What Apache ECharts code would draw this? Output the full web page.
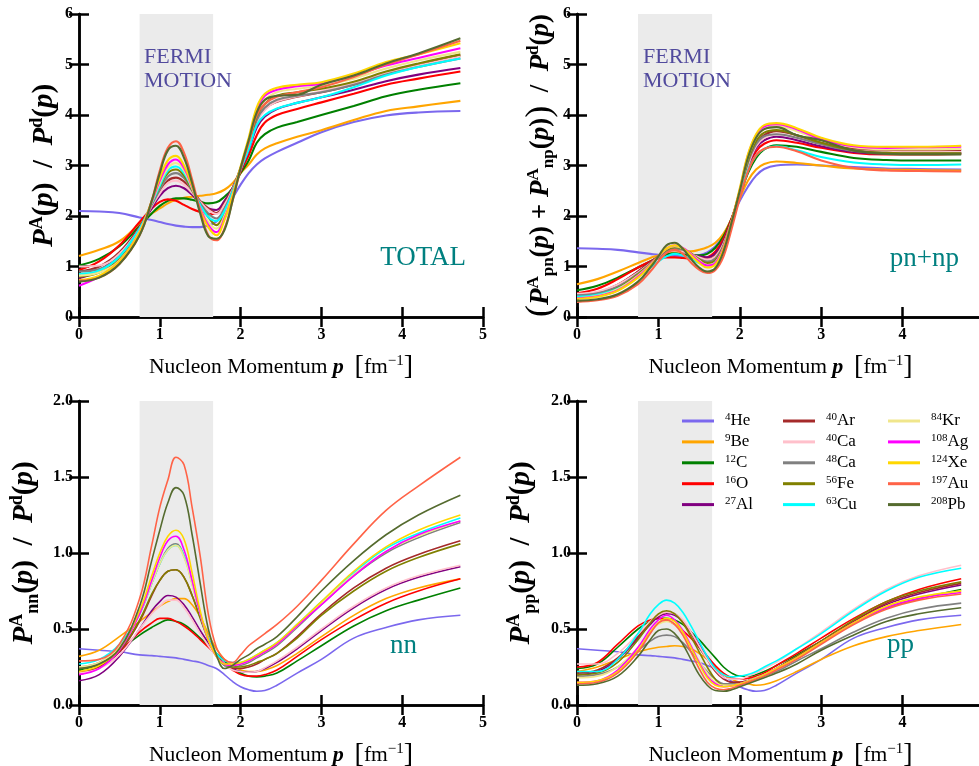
<!DOCTYPE html>
<html><head><meta charset="utf-8">
<script src="https://cdn.jsdelivr.net/npm/echarts@6/dist/echarts.min.js"></script>
<style>html,body{margin:0;padding:0;background:#fff}#c{width:979px;height:766px}</style>
</head><body><div id="c"></div>
<script>
// ---------- data ----------
const momentum = [0,0.25,0.5,0.75,0.9,1.0,1.1,1.2,1.3,1.4,1.5,1.6,1.7,1.8,1.9,2.0,2.1,2.2,2.3,2.45,2.7,3.0,3.4,3.8,4.2,4.72];
const elements = ['He','Be','C','O','Al','Ar','Ca','Ca','Fe','Cu','Kr','Ag','Xe','Au','Pb'];
const massNumbers = [4,9,12,16,27,40,40,48,56,63,84,108,124,197,208];
const lineColors = ['#7b68ee','#ffa500','#008000','#ff0000','#800080','#a52a2a','#ffc0cb','#808080','#808000','#00ffff','#f0e68c','#ff00ff','#ffd700','#ff6347','#556b2f'];
const fermiRange = [0.75, 1.66];
const panelLabels = ['TOTAL','pn+np','nn','pp'];

// TOTAL  P^A(p)/P^d(p)
const totalValues = [
 [2.10,2.09,2.06,1.97,1.92,1.88,1.84,1.81,1.79,1.78,1.78,1.81,1.89,2.05,2.35,2.62,2.85,3.02,3.14,3.27,3.45,3.66,3.86,3.99,4.05,4.08], // He
 [1.21,1.33,1.50,1.85,2.05,2.15,2.25,2.32,2.36,2.38,2.40,2.42,2.45,2.52,2.65,2.85,3.02,3.22,3.34,3.44,3.57,3.70,3.90,4.08,4.17,4.28], // Be
 [1.02,1.15,1.40,1.80,2.05,2.20,2.30,2.35,2.35,2.32,2.28,2.25,2.27,2.38,2.55,2.85,3.10,3.45,3.62,3.75,3.86,4.00,4.18,4.37,4.50,4.63], // C
 [0.93,1.10,1.42,1.88,2.15,2.28,2.33,2.30,2.22,2.14,2.08,2.04,2.05,2.20,2.50,2.88,3.20,3.60,3.85,4.00,4.12,4.25,4.42,4.60,4.72,4.86], // O
 [0.77,0.92,1.25,1.78,2.15,2.40,2.55,2.60,2.55,2.42,2.25,2.15,2.12,2.30,2.55,2.90,3.30,3.75,3.97,4.12,4.24,4.35,4.50,4.67,4.80,4.93], // Al
 [0.90,1.00,1.28,1.78,2.20,2.48,2.70,2.76,2.68,2.50,2.30,2.15,2.06,2.25,2.55,2.95,3.38,3.88,4.12,4.26,4.36,4.45,4.60,4.80,4.98,5.18], // Ar
 [1.00,1.02,1.25,1.75,2.20,2.45,2.65,2.70,2.62,2.46,2.28,2.12,2.04,2.22,2.52,2.93,3.36,3.86,4.10,4.27,4.37,4.47,4.62,4.82,4.98,5.16], // Ca40
 [0.90,0.95,1.20,1.75,2.22,2.52,2.78,2.85,2.75,2.50,2.25,2.05,1.95,2.15,2.50,2.95,3.38,3.90,4.15,4.30,4.38,4.45,4.60,4.80,4.95,5.12], // Ca48
 [0.80,0.88,1.15,1.72,2.25,2.58,2.85,2.92,2.80,2.52,2.22,1.98,1.82,2.05,2.45,2.95,3.42,3.98,4.22,4.38,4.45,4.52,4.66,4.86,5.02,5.20], // Fe
 [0.85,0.92,1.20,1.75,2.25,2.60,2.90,2.98,2.85,2.55,2.22,1.98,1.90,2.10,2.48,2.92,3.32,3.80,4.00,4.13,4.24,4.35,4.55,4.78,4.95,5.12], // Cu
 [0.82,0.88,1.12,1.70,2.27,2.65,2.95,3.05,2.90,2.55,2.15,1.88,1.75,2.00,2.42,2.95,3.45,4.05,4.30,4.45,4.52,4.58,4.72,4.92,5.08,5.25], // Kr
 [0.62,0.80,1.10,1.68,2.28,2.70,3.02,3.12,2.95,2.58,2.15,1.82,1.68,1.95,2.40,2.95,3.50,4.10,4.38,4.50,4.57,4.62,4.78,4.98,5.13,5.32], // Ag
 [0.73,0.82,1.10,1.68,2.30,2.75,3.10,3.19,3.00,2.60,2.12,1.78,1.62,1.92,2.40,2.98,3.55,4.15,4.42,4.54,4.60,4.65,4.82,5.05,5.20,5.42], // Xe
 [0.72,0.78,1.05,1.62,2.30,2.90,3.35,3.48,3.25,2.72,2.10,1.62,1.52,1.75,2.30,2.92,3.45,4.00,4.22,4.36,4.45,4.55,4.75,5.00,5.20,5.47], // Au
 [0.70,0.78,1.05,1.62,2.30,2.85,3.30,3.39,3.15,2.65,2.05,1.60,1.55,1.72,2.30,2.95,3.50,4.05,4.30,4.38,4.40,4.60,4.78,5.02,5.22,5.52]  // Pb
];

// (P_pn + P_np)/P^d
const pnnpValues = [
 [1.36,1.35,1.33,1.28,1.25,1.23,1.22,1.21,1.20,1.20,1.22,1.28,1.40,1.62,1.95,2.30,2.58,2.80,2.93,3.00,3.02,3.00,2.97,2.94,2.93,2.92], // He
 [0.65,0.75,0.90,1.07,1.17,1.22,1.27,1.30,1.30,1.30,1.33,1.38,1.47,1.65,1.95,2.35,2.70,2.92,3.03,3.08,3.05,3.00,2.94,2.92,2.91,2.90], // Be
 [0.53,0.62,0.78,0.98,1.10,1.18,1.24,1.26,1.24,1.22,1.22,1.25,1.37,1.60,1.95,2.40,2.85,3.15,3.32,3.40,3.37,3.27,3.15,3.11,3.10,3.10], // C
 [0.47,0.56,0.75,0.98,1.10,1.16,1.18,1.18,1.17,1.16,1.16,1.18,1.30,1.55,1.95,2.45,2.95,3.28,3.43,3.50,3.45,3.35,3.25,3.22,3.22,3.23], // O
 [0.40,0.47,0.63,0.90,1.08,1.20,1.30,1.33,1.30,1.24,1.20,1.18,1.26,1.50,1.92,2.45,3.00,3.35,3.50,3.57,3.50,3.38,3.27,3.24,3.24,3.25], // Al
 [0.42,0.48,0.64,0.90,1.08,1.20,1.30,1.35,1.32,1.25,1.18,1.15,1.22,1.48,1.92,2.48,3.05,3.42,3.60,3.68,3.60,3.45,3.33,3.30,3.30,3.31], // Ar
 [0.46,0.50,0.64,0.88,1.06,1.18,1.28,1.32,1.30,1.24,1.18,1.14,1.20,1.45,1.90,2.45,3.00,3.38,3.55,3.62,3.55,3.42,3.30,3.27,3.26,3.26], // Ca40
 [0.43,0.47,0.60,0.86,1.05,1.18,1.30,1.35,1.33,1.25,1.15,1.10,1.16,1.42,1.90,2.45,3.05,3.42,3.58,3.62,3.55,3.42,3.29,3.25,3.24,3.24], // Ca48
 [0.38,0.43,0.57,0.84,1.05,1.20,1.33,1.38,1.35,1.26,1.14,1.07,1.12,1.40,1.90,2.48,3.10,3.48,3.65,3.70,3.60,3.45,3.30,3.25,3.24,3.24], // Fe
 [0.40,0.44,0.56,0.80,0.98,1.10,1.20,1.25,1.22,1.15,1.07,1.02,1.08,1.35,1.85,2.40,2.90,3.20,3.33,3.38,3.30,3.17,3.06,3.02,3.01,3.02], // Cu
 [0.37,0.42,0.55,0.82,1.04,1.20,1.35,1.40,1.36,1.25,1.12,1.03,1.08,1.38,1.90,2.50,3.15,3.55,3.72,3.78,3.68,3.50,3.36,3.32,3.32,3.33], // Kr
 [0.37,0.41,0.53,0.80,1.03,1.20,1.36,1.42,1.37,1.24,1.10,1.02,1.07,1.37,1.90,2.52,3.20,3.60,3.77,3.82,3.72,3.52,3.38,3.35,3.36,3.37], // Ag
 [0.36,0.40,0.52,0.78,1.02,1.20,1.36,1.42,1.36,1.22,1.07,0.98,1.04,1.35,1.90,2.55,3.22,3.62,3.80,3.84,3.74,3.55,3.40,3.37,3.37,3.39], // Xe
 [0.30,0.33,0.42,0.65,0.90,1.10,1.27,1.33,1.25,1.08,0.94,0.87,0.93,1.20,1.75,2.35,2.88,3.20,3.33,3.37,3.28,3.10,2.95,2.90,2.89,2.88], // Au
 [0.32,0.35,0.45,0.70,0.98,1.20,1.42,1.47,1.35,1.15,0.98,0.90,0.97,1.30,1.88,2.50,3.15,3.55,3.72,3.76,3.60,3.50,3.30,3.23,3.22,3.22]  // Pb
];

// P_nn/P^d
const nnValues = [
 [0.37,0.36,0.35,0.33,0.325,0.32,0.315,0.31,0.30,0.29,0.28,0.26,0.24,0.20,0.155,0.12,0.10,0.09,0.095,0.13,0.21,0.30,0.44,0.51,0.56,0.59], // He
 [0.32,0.36,0.45,0.55,0.61,0.65,0.68,0.70,0.70,0.66,0.58,0.47,0.37,0.30,0.26,0.23,0.22,0.22,0.23,0.26,0.34,0.45,0.59,0.70,0.77,0.83], // Be
 [0.23,0.27,0.36,0.46,0.51,0.54,0.56,0.55,0.53,0.49,0.44,0.39,0.34,0.29,0.24,0.21,0.19,0.185,0.19,0.21,0.29,0.39,0.52,0.62,0.69,0.77], // C
 [0.20,0.25,0.35,0.48,0.54,0.57,0.57,0.55,0.52,0.48,0.43,0.38,0.33,0.27,0.23,0.20,0.19,0.19,0.20,0.23,0.32,0.43,0.56,0.67,0.75,0.83], // O
 [0.16,0.20,0.32,0.50,0.62,0.68,0.72,0.71,0.66,0.58,0.49,0.41,0.33,0.27,0.24,0.22,0.215,0.22,0.24,0.28,0.37,0.49,0.64,0.76,0.84,0.91], // Al
 [0.22,0.25,0.35,0.55,0.72,0.82,0.88,0.89,0.84,0.72,0.58,0.44,0.33,0.26,0.24,0.24,0.25,0.27,0.30,0.34,0.45,0.60,0.77,0.90,0.99,1.08], // Ar
 [0.21,0.24,0.33,0.50,0.60,0.65,0.69,0.69,0.64,0.56,0.47,0.39,0.32,0.26,0.23,0.22,0.215,0.22,0.245,0.29,0.38,0.50,0.65,0.77,0.85,0.92], // Ca40
 [0.25,0.28,0.38,0.60,0.80,0.93,1.03,1.06,0.98,0.80,0.60,0.43,0.32,0.26,0.25,0.26,0.28,0.31,0.34,0.39,0.51,0.66,0.85,1.00,1.10,1.20], // Ca48
 [0.24,0.27,0.36,0.56,0.73,0.82,0.88,0.89,0.84,0.72,0.57,0.43,0.33,0.27,0.25,0.25,0.26,0.28,0.30,0.34,0.44,0.59,0.75,0.88,0.97,1.06], // Fe
 [0.27,0.30,0.40,0.60,0.80,0.93,1.02,1.05,0.98,0.80,0.60,0.44,0.34,0.29,0.28,0.28,0.30,0.33,0.36,0.41,0.53,0.68,0.87,1.03,1.13,1.23], // Cu
 [0.25,0.28,0.38,0.60,0.80,0.93,1.02,1.05,0.97,0.79,0.60,0.43,0.32,0.27,0.26,0.27,0.29,0.32,0.35,0.40,0.52,0.67,0.86,1.01,1.11,1.21], // Kr
 [0.20,0.24,0.36,0.60,0.82,0.97,1.08,1.11,1.02,0.82,0.60,0.43,0.32,0.27,0.26,0.27,0.29,0.32,0.35,0.40,0.52,0.66,0.85,1.01,1.12,1.21], // Ag
 [0.22,0.26,0.37,0.62,0.85,1.00,1.11,1.15,1.09,0.87,0.62,0.43,0.32,0.27,0.27,0.28,0.30,0.33,0.36,0.41,0.53,0.68,0.88,1.04,1.15,1.25], // Xe
 [0.29,0.30,0.40,0.70,1.05,1.30,1.48,1.63,1.58,1.30,0.98,0.60,0.38,0.30,0.28,0.33,0.39,0.43,0.47,0.53,0.65,0.82,1.06,1.28,1.44,1.63], // Au
 [0.24,0.27,0.37,0.65,0.95,1.15,1.33,1.43,1.38,1.12,0.80,0.50,0.33,0.24,0.26,0.30,0.33,0.37,0.40,0.45,0.58,0.75,0.95,1.12,1.25,1.38]  // Pb
];

// P_pp/P^d
const ppValues = [
 [0.37,0.36,0.35,0.33,0.325,0.32,0.315,0.31,0.30,0.29,0.28,0.26,0.24,0.20,0.155,0.12,0.10,0.09,0.095,0.13,0.21,0.30,0.44,0.51,0.56,0.59], // He
 [0.22,0.25,0.30,0.35,0.37,0.38,0.385,0.39,0.385,0.37,0.34,0.30,0.25,0.20,0.17,0.15,0.14,0.13,0.135,0.16,0.22,0.30,0.39,0.45,0.49,0.53], // Be
 [0.24,0.27,0.38,0.50,0.55,0.57,0.57,0.56,0.53,0.48,0.43,0.37,0.31,0.25,0.21,0.19,0.19,0.20,0.22,0.26,0.33,0.42,0.54,0.64,0.70,0.76], // C
 [0.25,0.28,0.40,0.52,0.56,0.57,0.56,0.53,0.49,0.44,0.38,0.32,0.26,0.21,0.18,0.17,0.175,0.19,0.21,0.26,0.34,0.44,0.57,0.68,0.76,0.83], // O
 [0.20,0.22,0.30,0.44,0.53,0.58,0.60,0.59,0.55,0.48,0.40,0.32,0.24,0.18,0.15,0.15,0.16,0.18,0.20,0.24,0.32,0.42,0.55,0.66,0.73,0.79], // Al
 [0.21,0.23,0.31,0.45,0.54,0.59,0.61,0.60,0.55,0.47,0.38,0.30,0.22,0.17,0.15,0.15,0.16,0.18,0.20,0.24,0.32,0.42,0.55,0.67,0.74,0.80], // Ar
 [0.27,0.27,0.34,0.47,0.55,0.59,0.61,0.60,0.56,0.48,0.39,0.30,0.23,0.18,0.17,0.17,0.19,0.21,0.24,0.28,0.37,0.48,0.63,0.76,0.85,0.92], // Ca40
 [0.19,0.20,0.25,0.36,0.42,0.45,0.46,0.45,0.41,0.35,0.28,0.22,0.17,0.14,0.14,0.14,0.15,0.17,0.19,0.22,0.29,0.37,0.48,0.57,0.63,0.67], // Ca48
 [0.20,0.21,0.28,0.43,0.54,0.60,0.62,0.60,0.54,0.45,0.35,0.25,0.17,0.13,0.13,0.14,0.16,0.18,0.20,0.24,0.32,0.42,0.56,0.68,0.75,0.81], // Fe
 [0.22,0.22,0.30,0.47,0.60,0.66,0.69,0.67,0.61,0.52,0.42,0.32,0.24,0.20,0.185,0.19,0.20,0.22,0.25,0.29,0.37,0.47,0.62,0.75,0.84,0.90], // Cu
 [0.18,0.19,0.25,0.38,0.48,0.53,0.55,0.53,0.47,0.38,0.29,0.21,0.15,0.13,0.13,0.14,0.16,0.18,0.20,0.24,0.31,0.41,0.54,0.65,0.71,0.75], // Kr
 [0.15,0.16,0.23,0.38,0.50,0.56,0.59,0.56,0.49,0.39,0.28,0.19,0.14,0.12,0.125,0.14,0.155,0.175,0.20,0.24,0.31,0.41,0.54,0.64,0.70,0.74], // Ag
 [0.15,0.16,0.22,0.36,0.48,0.54,0.57,0.55,0.48,0.38,0.27,0.18,0.13,0.12,0.125,0.14,0.155,0.175,0.20,0.24,0.31,0.41,0.54,0.65,0.71,0.75], // Xe
 [0.14,0.15,0.21,0.35,0.47,0.54,0.56,0.53,0.46,0.35,0.24,0.15,0.11,0.10,0.11,0.13,0.15,0.17,0.19,0.23,0.30,0.40,0.53,0.63,0.69,0.73], // Au
 [0.13,0.14,0.19,0.32,0.43,0.49,0.50,0.47,0.40,0.30,0.20,0.13,0.095,0.09,0.10,0.12,0.14,0.16,0.18,0.21,0.27,0.36,0.46,0.55,0.60,0.64]  // Pb
];

const panelValues = [totalValues, pnnpValues, nnValues, ppValues];
const seriesNames = massNumbers.map((m, i) => m + elements[i]);

// ---------- layout / style ----------
const grids = [
  {left: 79, top: 14, width: 404, height: 303},
  {left: 577, top: 14, width: 407, height: 303},
  {left: 79, top: 401, width: 404, height: 304},
  {left: 577, top: 401, width: 407, height: 304}
].map(g => Object.assign({outerBoundsMode: 'none', containLabel: false}, g));
const yRanges = [[0,6,1],[0,6,1],[0,2,0.5],[0,2,0.5]];
const lineWidths = [2.1, 2.1, 1.6, 1.6];
const SERIF = '"Liberation Serif", "DejaVu Serif", serif';
const frameColor = '#000';

const mathRich = {
  bi: {fontFamily: SERIF, fontStyle: 'italic', fontWeight: 'bold', fontSize: 29, lineHeight: 34, color: '#000'},
  r:  {fontFamily: SERIF, fontWeight: 'bold', fontSize: 29, lineHeight: 34, color: '#000'},
  big:{fontFamily: SERIF, fontWeight: 'normal', fontSize: 38, lineHeight: 34, color: '#000'},
  sup:{fontFamily: SERIF, fontWeight: 'bold', fontSize: 18, lineHeight: 18, verticalAlign: 'top', color: '#000'},
  sub:{fontFamily: SERIF, fontWeight: 'bold', fontSize: 18, lineHeight: 14, verticalAlign: 'bottom', color: '#000'}
};
const mathRichSmall = JSON.parse(JSON.stringify(mathRich));
['bi','r'].forEach(k => { mathRichSmall[k].fontSize = 27; mathRichSmall[k].lineHeight = 32; });
mathRichSmall.big.fontSize = 36; mathRichSmall.big.lineHeight = 32;
mathRichSmall.sup.fontSize = 17; mathRichSmall.sub.fontSize = 17;

const yNames = [
  '{bi|P}{sup|A}{r|(}{bi|p}{r|)  /  }{bi|P}{sup|d}{r|(}{bi|p}{r|)}',
  '{big|(}{bi|P}{sup|A}{sub|pn}{r|(}{bi|p}{r|) + }{bi|P}{sup|A}{sub|np}{r|(}{bi|p}{r|)}{big|)}{r|  /  }{bi|P}{sup|d}{r|(}{bi|p}{r|)}',
  '{bi|P}{sup|A}{sub|nn}{r|(}{bi|p}{r|)  /  }{bi|P}{sup|d}{r|(}{bi|p}{r|)}',
  '{bi|P}{sup|A}{sub|pp}{r|(}{bi|p}{r|)  /  }{bi|P}{sup|d}{r|(}{bi|p}{r|)}'
];
const yNameRich = [mathRich, mathRichSmall, mathRich, mathRich];
const yNameGaps = [17, 20, 37, 38];
const xNameRich = {
  t: {fontFamily: SERIF, fontSize: 21.5, color: '#000', lineHeight: 26},
  i: {fontFamily: SERIF, fontSize: 22, fontStyle: 'italic', fontWeight: 'bold', color: '#000', lineHeight: 26},
  br:{fontFamily: SERIF, fontSize: 28, color: '#000', lineHeight: 26},
  sup:{fontFamily: SERIF, fontSize: 15, color: '#000', lineHeight: 15, verticalAlign: 'top'}
};
const xName = '{t|Nucleon Momentum }{i|p}{t|  }{br|[}{t|fm}{sup|−1}{br|]}';

const tickLabelStyle = {fontFamily: SERIF, fontWeight: 'bold', fontSize: 16, color: '#000'};
const axisLineStyle = {show: true, lineStyle: {color: frameColor, width: 2.5}};
const axisTickStyle = {show: true, inside: true, length: 10, lineStyle: {color: frameColor, width: 2.5}};

const xAxes = [], yAxes = [], series = [];
grids.forEach((g, gi) => {
  const [ymin, ymax, yint] = yRanges[gi];
  xAxes.push({
    type: 'value', gridIndex: gi, position: 'bottom', min: 0, max: 5, interval: 1,
    axisLine: axisLineStyle, axisTick: axisTickStyle, splitLine: {show: false},
    axisLabel: Object.assign({margin: 10}, tickLabelStyle),
    name: xName, nameLocation: 'middle', nameGap: 37, nameTextStyle: {rich: xNameRich}
  });
  xAxes.push({
    type: 'value', gridIndex: gi, position: 'top', min: 0, max: 5, interval: 1,
    axisLine: axisLineStyle, axisTick: axisTickStyle, splitLine: {show: false}, axisLabel: {show: false}
  });
  yAxes.push({
    type: 'value', gridIndex: gi, position: 'left', min: ymin, max: ymax, interval: yint,
    axisLine: axisLineStyle, axisTick: axisTickStyle, splitLine: {show: false},
    axisLabel: Object.assign({margin: 6, formatter: v => (yint < 1 ? v.toFixed(1) : String(v))}, tickLabelStyle),
    name: yNames[gi], nameLocation: 'middle', nameRotate: 90, nameGap: yNameGaps[gi],
    nameTextStyle: {rich: yNameRich[gi]}
  });
  yAxes.push({
    type: 'value', gridIndex: gi, position: 'right', min: ymin, max: ymax, interval: yint,
    axisLine: axisLineStyle, axisTick: axisTickStyle, splitLine: {show: false}, axisLabel: {show: false}
  });
  // Fermi-motion shading
  series.push({
    type: 'line', name: 'fermi' + gi, xAxisIndex: 2 * gi, yAxisIndex: 2 * gi, data: [], z: 1, silent: true,
    markArea: {silent: true, z: 1, itemStyle: {color: '#ebebeb'}, label: {show: false},
      data: [[{xAxis: fermiRange[0]}, {xAxis: fermiRange[1]}]]}
  });
  panelValues[gi].forEach((vals, i) => {
    series.push({
      type: 'line', name: seriesNames[i], xAxisIndex: 2 * gi, yAxisIndex: 2 * gi,
      data: momentum.map((x, k) => [x, vals[k]]),
      showSymbol: false, symbol: 'none', smooth: 0.4, z: 3, silent: true,
      color: lineColors[i],
      lineStyle: {color: lineColors[i], width: lineWidths[gi]},
      itemStyle: {color: lineColors[i]}
    });
  });
});

const legendCols = [682, 783, 888];
const legends = legendCols.map((left, c) => ({
  data: seriesNames.slice(c * 5, c * 5 + 5),
  orient: 'vertical', left: left, top: 412, padding: 0,
  itemWidth: 32, itemHeight: 3, itemGap: 3.4, icon: 'rect', selectedMode: false,
  formatter: name => { const i = seriesNames.indexOf(name); return '{s|' + massNumbers[i] + '}{e|' + elements[i] + '}'; },
  textStyle: {padding: [0, 0, 0, 6], rich: {
    s: {fontFamily: SERIF, fontSize: 11, lineHeight: 12, verticalAlign: 'top', color: '#000'},
    e: {fontFamily: SERIF, fontSize: 17, lineHeight: 18, color: '#000'}
  }}
}));

const labelFont = '27px ' + SERIF;
const fermiFont = '22px ' + SERIF;
const graphics = [
  {type: 'text', z: 50, x: 466, y: 258, style: {text: panelLabels[0], font: labelFont, fill: '#008080', align: 'right', verticalAlign: 'middle'}},
  {type: 'text', z: 50, x: 959, y: 259, style: {text: panelLabels[1], font: labelFont, fill: '#008080', align: 'right', verticalAlign: 'middle'}},
  {type: 'text', z: 50, x: 417, y: 646, style: {text: panelLabels[2], font: labelFont, fill: '#008080', align: 'right', verticalAlign: 'middle'}},
  {type: 'text', z: 50, x: 914, y: 645, style: {text: panelLabels[3], font: labelFont, fill: '#008080', align: 'right', verticalAlign: 'middle'}},
  {type: 'text', z: 50, x: 144, y: 45, style: {text: 'FERMI\nMOTION', font: fermiFont, lineHeight: 24, fill: '#514a9d', align: 'left', verticalAlign: 'top'}},
  {type: 'text', z: 50, x: 643, y: 45, style: {text: 'FERMI\nMOTION', font: fermiFont, lineHeight: 24, fill: '#514a9d', align: 'left', verticalAlign: 'top'}}
];

const chart = echarts.init(document.getElementById('c'), null, {renderer: 'canvas'});
chart.setOption({
  animation: false,
  backgroundColor: '#fff',
  grid: grids,
  xAxis: xAxes,
  yAxis: yAxes,
  legend: legends,
  series: series,
  graphic: graphics
});
</script></body></html>
